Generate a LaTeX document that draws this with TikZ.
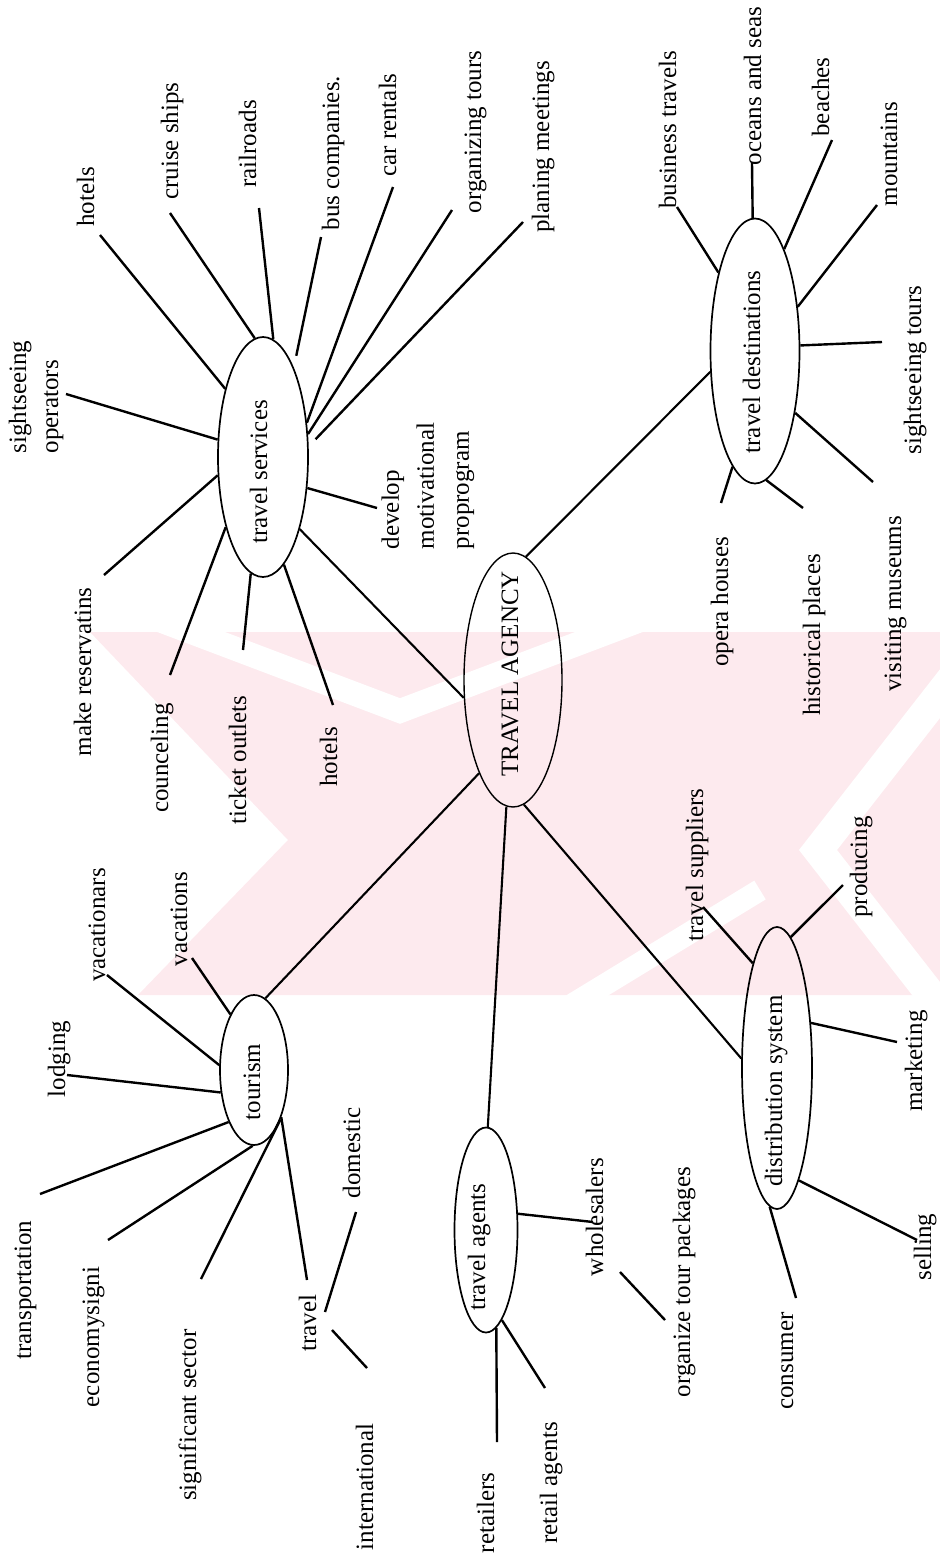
\documentclass[tikz,border=0pt]{standalone}
\usepackage{fontspec}
\setmainfont{Liberation Serif}
\usetikzlibrary{shapes.geometric}
\definecolor{wmpink}{RGB}{253,234,238}
\begin{document}
\begin{tikzpicture}[x=1pt,y=-1pt,
  lbl/.style={rotate=90, inner sep=0pt, font=\fontsize{25}{33}\selectfont,
              text height=17pt, text depth=5pt},
  lblm/.style={rotate=90, inner sep=0pt, align=left},
  hub/.style={ellipse, draw, line width=1.7pt, inner sep=0pt},
  spoke/.style={line width=2.4pt},
  link/.style={line width=2.1pt}]
\useasboundingbox (0,0) rectangle (940,1564);

% ---------- faint background mark ----------
\begin{scope}
  \clip (0,632) rectangle (940,995);
  \fill[wmpink] (90,632) -- (940,632) -- (940,995) -- (138,995) -- (288,840) -- cycle;
  \draw[white, line width=24pt] (133,610) -- (400,711) -- (667,610);
  \draw[white, line width=30pt] (960,668) -- (818,850) -- (960,1032);
  \draw[white, line width=22pt] (560,1012) -- (760,890);
\end{scope}

% ---------- hubs ----------
\node[hub, minimum width=90pt, minimum height=240pt] (ts) at (263,457) {};
\node[hub, line width=1.4pt, minimum width=98pt, minimum height=254pt] (ta) at (513,680) {};
\node[hub, minimum width=89pt, minimum height=265pt] (td) at (755,351) {};
\node[hub, minimum width=68pt, minimum height=150pt] (tm) at (254,1070) {};
\node[hub, minimum width=63pt, minimum height=205pt] (ag) at (486,1230) {};
\node[hub, minimum width=70pt, minimum height=282pt] (ds) at (777,1068) {};

% ---------- hub titles ----------
\node[lbl] (t-ts) at (261,472) {travel services};
\node[lbl] (t-ta) at (512,674) {TRAVEL AGENCY};
\node[lbl] (t-td) at (754,362) {travel destinations};
\node[lbl] (t-tm) at (254,1082) {tourism};
\node[lbl] (t-ag) at (479,1247) {travel agents};
\node[lbl] (t-ds) at (776,1091) {distribution system};

% ---------- travel services ----------
\node[lblm, font=\fontsize{25}{32}\selectfont] (l-sight) at (36,397) {sightseeing\\operators};
\node[lbl] (l-hot1) at (88,197) {hotels};
\node[lbl] (l-cru) at (172,141) {cruise ships};
\node[lbl] (l-rail) at (250,144) {railroads};
\node[lbl] (l-bus) at (333,153) {bus companies.};
\node[lbl] (l-car) at (390,125) {car rentals};
\node[lbl] (l-org) at (475,132) {organizing tours};
\node[lbl] (l-plan) at (543,147) {planing meetings};
\node[lblm, font=\fontsize{25}{35}\selectfont] (l-dev) at (428,486) {develop\\motivational\\proprogram};
\node[lbl] (l-res) at (85,672) {make reservatins};
\node[lbl] (l-cou) at (162,758) {counceling};
\node[lbl] (l-tic) at (240,760) {ticket outlets};
\node[lbl] (l-hot2) at (331,757) {hotels};

\coordinate (c-sight) at (66,394);
\coordinate (c-hot1) at (100,235);
\coordinate (c-cru) at (170,213);
\coordinate (c-rail) at (259,208);
\coordinate (c-bus) at (321,237);
\coordinate (c-car) at (393,187);
\coordinate (c-org) at (452,210);
\coordinate (c-plan) at (523,222);
\coordinate (c-dev) at (377,508);
\coordinate (c-res) at (104,575);
\coordinate (c-cou) at (170,675);
\coordinate (c-tic) at (243,650);
\coordinate (c-hot2) at (333,705);

\draw[spoke] (ts.159) -- (c-sight);
\draw[spoke] (ts.119) -- (c-hot1);
\draw[spoke] (ts.94) -- (c-cru);
\draw[spoke] (ts.85) -- (c-rail);
\draw[spoke, shorten <=12pt] (ts.71) -- (c-bus);
\draw[spoke] (ts.38) -- (c-car);
\draw[spoke] (ts.27) -- (c-org);
\draw[spoke, shorten <=10pt] (ts.13) -- (c-plan);
\draw[spoke] (ts.-35) -- (c-dev);
\draw[spoke] (ts.202) -- (c-res);
\draw[spoke] (ts.242) -- (c-cou);
\draw[spoke] (ts.264) -- (c-tic);
\draw[spoke] (ts.281.5) -- (c-hot2);

% ---------- travel destinations ----------
\node[lbl] (l-bt) at (670,130) {business travels};
\node[lbl] (l-oc) at (755,86) {oceans and seas};
\node[lbl] (l-be) at (823,97) {beaches};
\node[lbl] (l-mo) at (891,154) {mountains};
\node[lbl] (l-st) at (915,370) {sightseeing tours};
\node[lbl] (l-op) at (722,602) {opera houses};
\node[lbl] (l-hi) at (814,635) {historical places};
\node[lbl] (l-vm) at (895,604) {visiting museums};

\coordinate (c-bt) at (677,207);
\coordinate (c-oc) at (752,163);
\coordinate (c-be) at (832,140);
\coordinate (c-mo) at (877,205);
\coordinate (c-st) at (882,342);
\coordinate (c-vm) at (873,482);
\coordinate (c-hi) at (803,508);
\coordinate (c-op) at (721,503);

\draw[spoke] (td.115) -- (c-bt);
\draw[spoke] (td.91) -- (c-oc);
\draw[spoke] (td.74) -- (c-be);
\draw[spoke] (td.46) -- (c-mo);
\draw[spoke] (td.7) -- (c-st);
\draw[spoke] (td.-57) -- (c-vm);
\draw[spoke] (td.-85) -- (c-hi);
\draw[spoke] (td.259) -- (c-op);

% ---------- tourism ----------
\node[lbl] (l-vcn) at (99,925) {vacationars};
\node[lbl] (l-vac) at (181,919) {vacations};
\node[lbl] (l-lod) at (59,1059) {lodging};
\node[lbl] (l-tra) at (25,1290) {transportation};
\node[lbl] (l-eco) at (93,1337) {economysigni};
\node[lbl] (l-sig) at (190,1415) {significant sector};
\node[lbl] (l-trv) at (310,1323) {travel};
\node[lbl] (l-dom) at (354,1153) {domestic};
\node[lbl] (l-int) at (367,1487) {international};

\coordinate (c-vac) at (192,958);
\coordinate (c-vcn) at (107,975);
\coordinate (c-lod) at (67,1075);
\coordinate (c-tra) at (40,1194);
\coordinate (c-eco) at (108,1240);
\coordinate (c-sig) at (201,1279);
\coordinate (c-trv) at (307,1280);
\coordinate (c-dom1) at (325,1312);
\coordinate (c-dom2) at (356,1212);
\coordinate (c-int1) at (332,1330);
\coordinate (c-int2) at (367,1368);

\draw[spoke] (tm.113) -- (c-vac);
\draw[spoke] (tm.172) -- (c-vcn);
\draw[spoke] (tm.214) -- (c-lod);
\draw[spoke] (tm.244) -- (c-tra);
\draw[spoke] (tm.269) -- (c-eco);
\draw[spoke] (tm.298) -- (c-sig);
\draw[spoke] (tm.300) -- (c-trv);
\draw[spoke] (c-dom1) -- (c-dom2);
\draw[spoke] (c-int1) -- (c-int2);

% ---------- travel agents ----------
\node[lbl] (l-who) at (597,1217) {wholesalers};
\node[lbl] (l-otp) at (684,1282) {organize tour packages};
\node[lbl] (l-ret) at (488,1513) {retailers};
\node[lbl] (l-rag) at (551,1483) {retail agents};

\coordinate (c-who) at (593,1222);
\coordinate (c-ret) at (497,1442);
\coordinate (c-rag) at (545,1388);
\coordinate (c-otp1) at (620,1272);
\coordinate (c-otp2) at (665,1320);

\draw[spoke] (ag.27) -- (c-who);
\draw[spoke] (ag.276) -- (c-ret);
\draw[spoke] (ag.280) -- (c-rag);
\draw[spoke] (c-otp1) -- (c-otp2);

% ---------- distribution system ----------
\node[lbl] (l-sup) at (697,865) {travel suppliers};
\node[lbl] (l-pro) at (861,867) {producing};
\node[lbl] (l-mar) at (916,1061) {marketing};
\node[lbl] (l-sel) at (925,1247) {selling};
\node[lbl] (l-con) at (787,1361) {consumer};

\coordinate (c-sup) at (703,907);
\coordinate (c-pro) at (843,885);
\coordinate (c-mar) at (897,1042);
\coordinate (c-sel) at (917,1240);
\coordinate (c-con) at (796,1298);

\draw[spoke] (ds.103) -- (c-sup);
\draw[spoke] (ds.84) -- (c-pro);
\draw[spoke] (ds.53) -- (c-mar);
\draw[spoke] (ds.-79) -- (c-sel);
\draw[spoke] (ds.267) -- (c-con);

% ---------- links to the agency ----------
\draw[link] (ts.-63) -- (ta.200.6);
\draw[link] (ta.84.6) -- (td.205.6);
\draw[link] (ta.250) -- (tm.81);
\draw[link] (ta.267.5) -- (ag.89.4);
\draw[link] (ta.275.5) -- (ds.165);
\end{tikzpicture}
\end{document}
